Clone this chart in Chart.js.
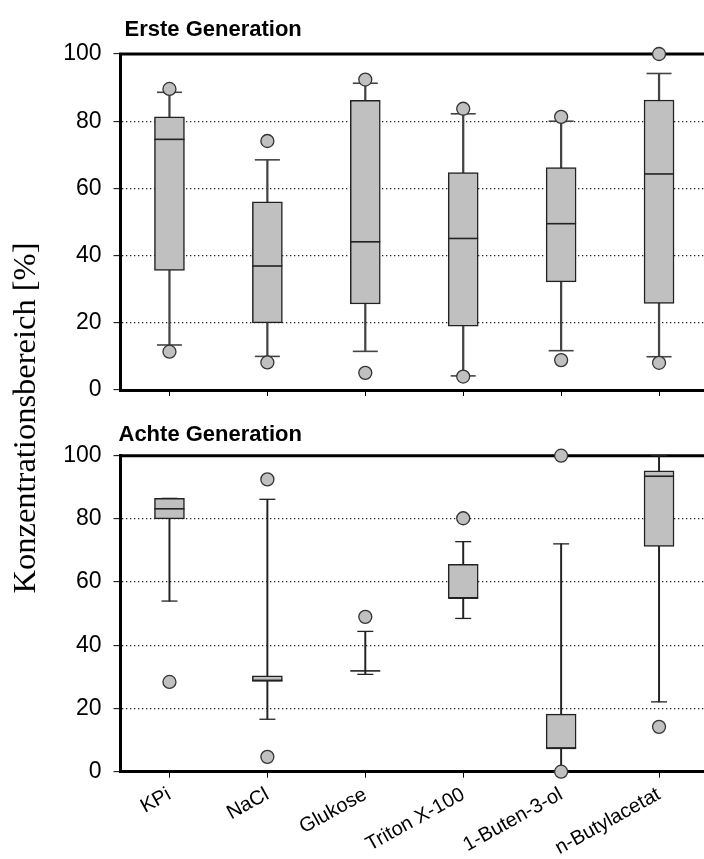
<!DOCTYPE html>
<html>
<head>
<meta charset="utf-8">
<script src="https://cdn.jsdelivr.net/npm/chart.js@4.4.1/dist/chart.umd.min.js"></script>
<style>
  html, body { margin: 0; padding: 0; background: #fff; overflow: hidden; width: 704px; height: 859px; }
  canvas { position: absolute; left: 0; }
  #c1 { top: 0; }
  #c2 { top: 400px; }
  #ylab {
    position: absolute; left: -176px; top: 398px; width: 400px; height: 40px;
    line-height: 40px; text-align: center; white-space: nowrap;
    font-family: "Liberation Serif", "Times New Roman", serif; font-size: 32.5px; color: #000;
    transform: rotate(-90deg);
  }
</style>
</head>
<body>
<canvas id="c1" width="712" height="400"></canvas>
<canvas id="c2" width="712" height="459"></canvas>
<div id="ylab">Konzentrationsbereich [%]</div>
<script>
// Categories and axis ticks
const categories = ['KPi', 'NaCl', 'Glukose', 'Triton X-100', '1-Buten-3-ol', 'n-Butylacetat'];
const yTickValues = [0, 20, 40, 60, 80, 100];

// Erste Generation: whiskers, quartiles, median, single outliers
const gen1WhiskerLow  = [13.4, 10.0, 11.5,  4.2, 11.7,  9.9];
const gen1Q1          = [35.6, 20.0, 25.6, 19.0, 32.2, 25.8];
const gen1Median      = [74.6, 36.9, 44.1, 45.1, 49.5, 64.3];
const gen1Q3          = [81.3, 56.0, 86.2, 64.7, 66.2, 86.3];
const gen1WhiskerHigh = [88.6, 68.5, 91.3, 82.2, 80.0, 94.2];
const gen1OutHigh     = [89.6, 74.1, 92.4, 83.7, 81.3, 100];
const gen1OutLow      = [11.4,  8.2,  5.1,  4.0,  8.9,  8.1];

// Achte Generation
const gen8WhiskerLow  = [54.0, 16.6, 30.8, 48.5,  0.0, 22.1];
const gen8Q1          = [80.0, 28.6, 31.9, 54.9,  7.4, 71.3];
const gen8Median      = [83.2, 28.9, 31.9, 54.9,  7.4, 93.5];
const gen8Q3          = [86.5, 30.3, 31.9, 65.6, 18.2, 95.2];
const gen8WhiskerHigh = [86.5, 86.2, 44.4, 72.8, 72.1, 100];
const gen8OutHigh     = [null, 92.5, 49.0, 80.2, 100, null];
const gen8OutLow      = [28.4,  4.7, null, null,  0.0, 14.2];

const LABEL_FONT = '"Liberation Sans Narrow", "Arial Narrow", "Liberation Sans", Arial, sans-serif';
const BOX_FILL = '#c0c0c0';

// Heading above the plot frame plus the top frame line
const panelFrame = {
  id: 'panelFrame',
  beforeDatasetsDraw(chart, args, opts) {
    const { ctx, chartArea } = chart;
    ctx.save();
    ctx.strokeStyle = '#000';
    ctx.lineWidth = 3;
    ctx.beginPath();
    ctx.moveTo(chartArea.left - 1.5, chartArea.top);
    ctx.lineTo(chartArea.right, chartArea.top);
    ctx.stroke();
    ctx.restore();
  },
  afterDraw(chart, args, opts) {
    const { ctx, chartArea } = chart;
    ctx.save();
    ctx.fillStyle = '#000';
    ctx.font = 'bold 22px "Liberation Sans", Arial, sans-serif';
    ctx.textBaseline = 'alphabetic';
    ctx.textAlign = 'left';
    ctx.fillText(opts.text, chartArea.left + opts.dx, chartArea.top - opts.dy);
    ctx.restore();
  }
};

function zip(a, b) { return a.map((v, i) => [v, b[i]]); }

function makePanel(canvasId, heading, s, cfg) {
  const pts = (data, style) => Object.assign({
    type: 'line', data, showLine: false, clip: false,
    pointHoverRadius: 0
  }, style);
  return new Chart(document.getElementById(canvasId), {
    type: 'bar',
    data: {
      labels: categories,
      datasets: [
        { // whisker stems
          data: zip(s.wLow, s.wHigh), grouped: false, order: 6,
          barThickness: cfg.stemWidth, backgroundColor: cfg.stemColor,
          borderWidth: 0
        },
        { // interquartile boxes
          data: zip(s.q1, s.q3), grouped: false, order: 5,
          barThickness: 30, backgroundColor: BOX_FILL,
          borderColor: '#222', borderWidth: 1.5, borderSkipped: false
        },
        pts(s.median, { order: 4, pointStyle: 'line', pointRadius: 15,
          pointBorderColor: '#222', pointBorderWidth: 1.6 }),
        pts(s.wHigh, { order: 3, pointStyle: 'line', pointRadius: cfg.capRadius,
          pointBorderColor: cfg.stemColor, pointBorderWidth: cfg.stemWidth }),
        pts(s.wLow, { order: 3, pointStyle: 'line', pointRadius: cfg.capRadius,
          pointBorderColor: cfg.stemColor, pointBorderWidth: cfg.stemWidth }),
        pts(s.outHigh, { order: 1, pointStyle: 'circle', pointRadius: 6.5,
          pointBackgroundColor: BOX_FILL, pointBorderColor: '#333', pointBorderWidth: 1.3 }),
        pts(s.outLow, { order: 1, pointStyle: 'circle', pointRadius: 6.5,
          pointBackgroundColor: BOX_FILL, pointBorderColor: '#333', pointBorderWidth: 1.3 })
      ]
    },
    options: {
      responsive: false,
      animation: false,
      events: [],
      layout: { autoPadding: false, padding: { top: cfg.padTop, right: 4, left: 0, bottom: 0 } },
      plugins: {
        legend: { display: false },
        tooltip: { enabled: false },
        panelFrame: { text: heading, dx: cfg.headDx, dy: cfg.headDy }
      },
      scales: {
        x: {
          type: 'category',
          offset: true,
          grid: { display: true, offset: false, drawOnChartArea: false, drawTicks: true,
                  tickLength: 6, tickColor: '#000', tickWidth: 1 },
          border: { display: true, color: '#000', width: 3 },
          ticks: {
            display: cfg.showLabels,
            color: '#000',
            font: { family: LABEL_FONT, size: 20 },
            minRotation: 29, maxRotation: 29,
            padding: 5
          },
          afterFit(scale) {
            scale.height = cfg.xHeight;
            scale.paddingLeft = 0;
            scale.paddingRight = 0;
          }
        },
        y: {
          min: 0, max: 100,
          afterBuildTicks(scale) { scale.ticks = yTickValues.map(v => ({ value: v })); },
          grid: {
            color: c => (c.tick && (c.tick.value === 0 || c.tick.value === 100)) ? 'rgba(0,0,0,0)' : '#222',
            lineWidth: 1.3,
            tickColor: '#000', tickWidth: 1, tickLength: 7, drawTicks: true
          },
          border: { display: true, color: '#000', width: 3, dash: [1.3, 2.7] },
          ticks: {
            color: '#000',
            font: { family: LABEL_FONT, size: 23 },
            padding: 12
          },
          afterFit(scale) {
            scale.width = 120.5;
            scale.paddingTop = 0;
            scale.paddingBottom = 0;
          }
        }
      }
    },
    plugins: [panelFrame]
  });
}

makePanel('c1', 'Erste Generation', {
  wLow: gen1WhiskerLow, q1: gen1Q1, median: gen1Median, q3: gen1Q3,
  wHigh: gen1WhiskerHigh, outHigh: gen1OutHigh, outLow: gen1OutLow
}, { padTop: 54, xHeight: 10, showLabels: false, capRadius: 12.5,
     stemWidth: 1.6, stemColor: '#444', headDx: 4, headDy: 18 });

makePanel('c2', 'Achte Generation', {
  wLow: gen8WhiskerLow, q1: gen8Q1, median: gen8Median, q3: gen8Q3,
  wHigh: gen8WhiskerHigh, outHigh: gen8OutHigh, outLow: gen8OutLow
}, { padTop: 55.7, xHeight: 87.3, showLabels: true, capRadius: 8,
     stemWidth: 1.3, stemColor: '#222', headDx: -2, headDy: 15 });
</script>
</body>
</html>
